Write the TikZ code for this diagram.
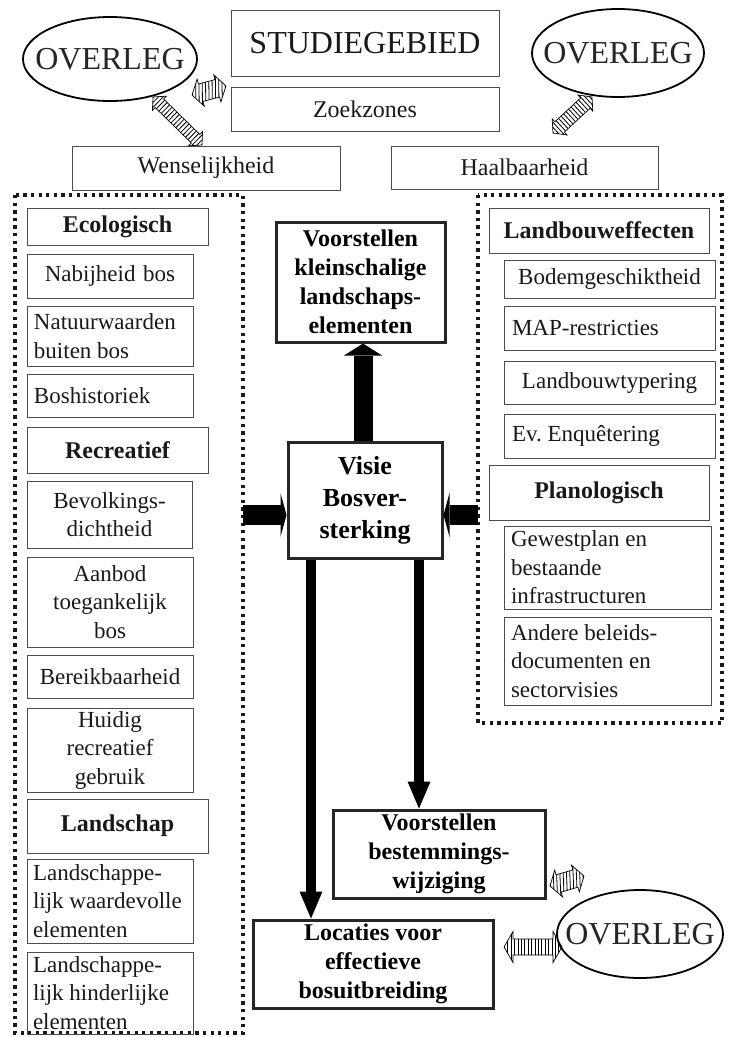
\documentclass[tikz,border=0pt]{standalone}
\usepackage{fontspec}
\setmainfont{Liberation Serif}
\usetikzlibrary{shapes.geometric,arrows.meta,calc}
\frenchspacing

\newcommand{\regf}{\fontsize{23}{28.5}\selectfont}
\newcommand{\boldf}{\fontsize{24}{29}\selectfont\bfseries}
\newcommand{\visf}{\fontsize{26}{32}\selectfont\bfseries}
\newcommand{\midf}{\fontsize{24}{28}\selectfont}
\newcommand{\bigf}{\fontsize{32}{36}\selectfont}

% hatched double arrow: from, to, head half height, shaft half height, stripe slant
\newcommand{\hatcharrow}[5]{%
  \path let \p1=(#1), \p2=(#2) in
    \pgfextra{\pgfmathsetmacro\hang{atan2(\y2-\y1,\x2-\x1)}%
      \pgfmathsetmacro\hlen{veclen(\x2-\x1,\y2-\y1)}%
      \global\let\hang\hang\global\let\hlen\hlen};
  \begin{scope}[shift={(#1)}, rotate=\hang, x=1pt, y=1pt]
    \begin{scope}
      \clip (0,0) -- (9,#3) -- (9,#4) -- (\hlen-9,#4) -- (\hlen-9,#3) -- (\hlen,0)
        -- (\hlen-9,-#3) -- (\hlen-9,-#4) -- (9,-#4) -- (9,-#3) -- cycle;
      \foreach \s in {-20,-16.6,...,100}
        \draw[line width=0.8pt] (\s,-#3) -- (\s+#5,#3);
    \end{scope}
    \draw[line width=0.7pt] (0,0) -- (9,#3) -- (9,#4) -- (\hlen-9,#4) -- (\hlen-9,#3) -- (\hlen,0)
      -- (\hlen-9,-#3) -- (\hlen-9,-#4) -- (9,-#4) -- (9,-#3) -- cycle;
  \end{scope}}

\tikzset{
  thinbox/.style={draw=black!70, line width=0.9pt, inner sep=0pt, font=\regf, text=black!90},
  catbox/.style={thinbox, font=\boldf, align=center},
  thickbox/.style={draw=black!85, line width=3pt, inner sep=0pt, font=\boldf, align=center},
  overleg/.style={ellipse, draw=black, line width=1.8pt, inner sep=0pt, font=\bigf, text=black!85},
  dotframe/.style={line width=3.3pt, dash pattern=on 3.3pt off 4.3pt, black!90},
  uparrow/.style={line width=19pt, -{Triangle[width=38pt,length=12pt,line width=0pt]}},
  sidearrow/.style={line width=20pt, -{Triangle[width=44pt,length=6pt,line width=0pt]}},
  downarrow/.style={line width=10pt, -{Triangle[width=23pt,length=27pt,line width=0pt]}}
}

\begin{document}
\begin{tikzpicture}[x=1pt,y=-1pt]
\useasboundingbox (0,0) rectangle (739,1037);
% Top
\node[thinbox, font=\bigf, minimum width=268pt, minimum height=66pt] (studie) at (365,43) {STUDIEGEBIED};
\node[thinbox, font=\midf, minimum width=268pt, minimum height=44pt] (zoek) at (365,109) {Zoekzones};
\node[overleg, minimum width=174pt, minimum height=84pt] (ovlL) at (110,59) {\makebox[0pt]{OVERLEG}};
\node[overleg, minimum width=172pt, minimum height=88pt] (ovlR) at (618,53) {\makebox[0pt]{OVERLEG}};
\node[thinbox, font=\midf, minimum width=268pt, minimum height=44pt] (wens) at (206,168) {Wenselijkheid};
\node[thinbox, font=\midf, minimum width=267pt, minimum height=43pt] (haal) at (524.5,167.5) {Haalbaarheid};
% Frames
\draw[dotframe] (15,195) rectangle (243,1033); % wenselijkheid
\draw[dotframe] (478,195) rectangle (722,723); % haalbaarheid
% Left column
\node[catbox, minimum width=181pt, minimum height=37pt] (eco) at (117.5,226.5) {Ecologisch};
\node[thinbox, minimum width=166pt, minimum height=44pt, text width=154pt, align=center] (nabij) at (110,276) {Nabijheid bos};
\node[thinbox, minimum width=166pt, minimum height=60pt, text width=152pt, align=flush left] (natuur) at (110,336) {Natuurwaarden\\buiten bos};
\node[thinbox, minimum width=166pt, minimum height=43pt, text width=152pt, align=flush left] (boshist) at (110,395.5) {Boshistoriek};
\node[catbox, minimum width=181pt, minimum height=46pt] (recr) at (117.5,450) {Recreatief};
\node[thinbox, minimum width=165pt, minimum height=67pt, text width=154pt, align=center] (bevolk) at (109.5,514.5) {Bevolkings-\\dichtheid};
\node[thinbox, minimum width=166pt, minimum height=90pt, text width=154pt, align=center] (aanbod) at (110,602) {Aanbod\\toegankelijk\\bos};
\node[thinbox, minimum width=166pt, minimum height=43pt, text width=160pt, align=center] (bereik) at (110,676.5) {Bereikbaarheid};
\node[thinbox, minimum width=166pt, minimum height=84pt, text width=154pt, align=center] (huidig) at (110,750) {Huidig\\recreatief\\gebruik};
\node[catbox, minimum width=181pt, minimum height=54pt] (landsch) at (117.5,826) {Landschap};
\node[thinbox, minimum width=166pt, minimum height=84pt, text width=154pt, align=flush left] (waarde) at (110,901) {Landschappe-\\lijk waardevolle\\elementen};
\node[thinbox, minimum width=166pt, minimum height=82pt, text width=154pt, align=flush left] (hinder) at (110,993) {Landschappe-\\lijk hinderlijke\\elementen};
% Right column
\node[catbox, minimum width=220pt, minimum height=45pt] (landb) at (599,230.5) {Landbouweffecten};
\node[thinbox, minimum width=211pt, minimum height=38pt, text width=200pt, align=center] (bodem) at (609.5,279) {Bodemgeschiktheid};
\node[thinbox, minimum width=211pt, minimum height=44pt, text width=195pt, align=flush left] (map) at (609.5,328) {MAP-restricties};
\node[thinbox, minimum width=211pt, minimum height=43pt, text width=200pt, align=center] (typer) at (609.5,382.5) {Landbouwtypering};
\node[thinbox, minimum width=211pt, minimum height=44pt, text width=195pt, align=flush left] (enq) at (609.5,436) {Ev. Enquêtering};
\node[catbox, minimum width=220pt, minimum height=55pt] (plano) at (599,492.5) {Planologisch};
\node[thinbox, minimum width=207pt, minimum height=83pt, text width=193pt, align=flush left] (gewest) at (607.5,567.5) {Gewestplan en\\bestaande\\infrastructuren};
\node[thinbox, minimum width=207pt, minimum height=88pt, text width=193pt, align=flush left] (andere) at (607.5,661) {Andere beleids-\\documenten en\\sectorvisies};
% Center
\node[thickbox, minimum width=169pt, minimum height=120pt] (klein) at (360.5,282) {Voorstellen\\kleinschalige\\landschaps-\\elementen};
\node[thickbox, font=\visf, minimum width=154pt, minimum height=116pt] (visie) at (365,500) {Visie\\Bosver-\\sterking};
\node[thickbox, minimum width=212pt, minimum height=88pt] (bestem) at (439,854) {Voorstellen\\bestemmings-\\wijziging};
\node[thickbox, minimum width=240pt, minimum height=88pt] (locat) at (373,964) {Locaties voor\\effectieve\\bosuitbreiding};
\node[overleg, minimum width=166pt, minimum height=88pt] (ovlB) at (640,934) {\makebox[0pt]{OVERLEG}};
% Black arrows
\coordinate (xU) at (363,0);
\coordinate (xL) at (311,0);
\coordinate (xR) at (419,0);
\coordinate (inL) at (243,515);
\coordinate (inR) at (478,515);
\draw[uparrow] (visie.north -| xU) -- (klein.south -| xU);
\draw[sidearrow] (inL) -- (inL -| visie.west);
\draw[sidearrow] (inR) -- (inR -| visie.east);
\draw[downarrow] (visie.south -| xL) -- (locat.north -| xL);
\draw[downarrow] (visie.south -| xR) -- (bestem.north -| xR);
% Hatched arrows (overleg)
\coordinate (hA1) at (192,95);  \coordinate (hA2) at (226,86);
\coordinate (hB1) at (153,97);  \coordinate (hB2) at (202,145);
\coordinate (hC1) at (553,133); \coordinate (hC2) at (592,97);
\coordinate (hD1) at (550,886); \coordinate (hD2) at (584,876);
\coordinate (hE1) at (504,947); \coordinate (hE2) at (562,947);
\hatcharrow{hA1}{hA2}{14}{9}{7}
\hatcharrow{hB1}{hB2}{10}{6}{0}
\hatcharrow{hC1}{hC2}{11}{7}{0}
\hatcharrow{hD1}{hD2}{14}{9}{7}
\hatcharrow{hE1}{hE2}{15.5}{8}{0}
\end{tikzpicture}
\end{document}
